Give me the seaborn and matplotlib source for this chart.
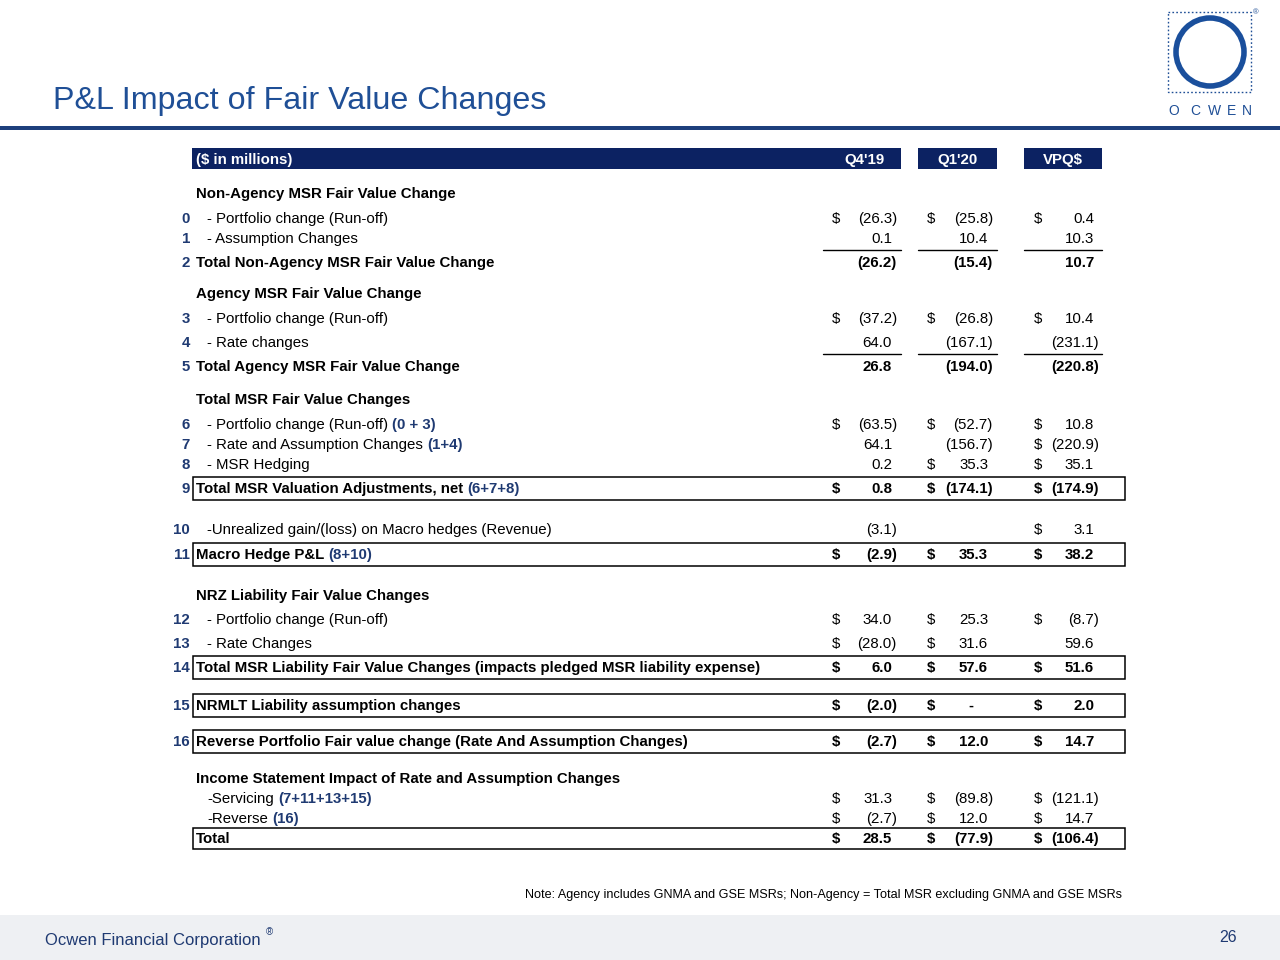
import matplotlib
matplotlib.use("Agg")
import matplotlib.pyplot as plt
from matplotlib.patches import Rectangle, Circle
import seaborn as sns

sns.set_theme(style="white")
plt.rcParams['font.family'] = ['Liberation Sans', 'DejaVu Sans']

# ---- table data ($ in millions) ----
col_heads = ["Q4'19", "Q1'20", "VPQ$"]
row_nums = ["", "0", "1", "2", "", "3", "4", "5", "", "6", "7", "8", "9", "10", "11",
            "", "12", "13", "14", "15", "16", "", "", "", ""]
labels = ["Non-Agency MSR Fair Value Change",
          "- Portfolio change (Run-off)",
          "- Assumption Changes",
          "Total Non-Agency MSR Fair Value Change",
          "Agency MSR Fair Value Change",
          "- Portfolio change (Run-off)",
          "- Rate changes",
          "Total Agency MSR Fair Value Change",
          "Total MSR Fair Value Changes",
          "- Portfolio change (Run-off)",
          "- Rate and Assumption Changes",
          "- MSR Hedging",
          "Total MSR Valuation Adjustments, net",
          "-Unrealized gain/(loss) on Macro hedges (Revenue)",
          "Macro Hedge P&L",
          "NRZ Liability Fair Value Changes",
          "- Portfolio change (Run-off)",
          "- Rate Changes",
          "Total MSR Liability Fair Value Changes (impacts pledged MSR liability expense)",
          "NRMLT Liability assumption changes",
          "Reverse Portfolio Fair value change (Rate And Assumption Changes)",
          "Income Statement Impact of Rate and Assumption Changes",
          "-Servicing",
          "-Reverse",
          "Total"]
formulas = ["", "", "", "", "", "", "", "", "", "(0 + 3)", "(1+4)", "", "(6+7+8)", "", "(8+10)",
            "", "", "", "", "", "", "", "(7+11+13+15)", "(16)", ""]
q4 = [None, -26.3, 0.1, -26.2, None, -37.2, 64.0, 26.8, None, -63.5, 64.1, 0.2, 0.8, -3.1, -2.9,
      None, 34.0, -28.0, 6.0, -2.0, -2.7, None, 31.3, -2.7, 28.5]
q1 = [None, -25.8, 10.4, -15.4, None, -26.8, -167.1, -194.0, None, -52.7, -156.7, 35.3, -174.1, None, 35.3,
      None, 25.3, 31.6, 57.6, 0.0, 12.0, None, -89.8, 12.0, -77.9]
vpq = [None, 0.4, 10.3, 10.7, None, 10.4, -231.1, -220.8, None, 10.8, -220.9, 35.1, -174.9, 3.1, 38.2,
       None, -8.7, 59.6, 51.6, 2.0, 14.7, None, -121.1, 14.7, -106.4]
# "$" shown in Q4 / Q1 / VPQ columns
dollars = ["000", "111", "000", "000", "000", "111", "000", "000", "000", "111", "001", "011", "111",
           "001", "111", "000", "111", "110", "111", "111", "111", "000", "111", "111", "111"]
# row kind: sec = section header, item = detail line, sub = bold subtotal, box = boxed bold total
kinds = ["sec", "item", "item", "sub", "sec", "item", "item", "sub", "sec", "item", "item", "item", "box",
         "item", "box", "sec", "item", "item", "box", "box", "box", "sec", "item", "item", "box"]
note = "Note: Agency includes GNMA and GSE MSRs; Non-Agency = Total MSR excluding GNMA and GSE MSRs"

# ---- layout (pixels, top-down) ----
row_y = [193, 218, 238, 262, 293, 318, 342, 366, 399, 424, 444, 464, 488, 529, 554,
         595, 619, 643, 667, 705, 741, 778, 798, 818, 838]
underline_rows = [2, 6]
dollar_x = [832, 927, 1034]
value_right = [897, 993, 1099]
col_spans = [(823, 901), (918, 997), (1024, 1102)]
head_spans = [(192, 901), (918, 997), (1024, 1102)]

navy = '#0c2262'
num_col = '#1f3a72'
blue = '#1f4f96'
fs = 10.8
dy = 1  # baseline nudge

fig = plt.figure(figsize=(12.8, 9.6), dpi=100)
ax = fig.add_axes([0, 0, 1, 1])
ax.set_xlim(0, 1280)
ax.set_ylim(960, 0)
ax.axis('off')

# title + rule
ax.text(53, 97, "P&L Impact of Fair Value Changes", fontsize=23.2, color=blue, va='center_baseline', ha='left')
ax.add_patch(Rectangle((0, 126), 1280, 4, color='#1d3f7c', lw=0))

# logo
ax.add_patch(Rectangle((1168, 12), 83, 80, fill=False, ec=blue, lw=1.0, ls=(0, (1.2, 1.6))))
ax.add_patch(Circle((1210, 52), 34, fill=False, ec='#1a4f9c', lw=4.0))
ax.text(1256, 13, "®", fontsize=5.5, color=blue, ha='center', va='center')
for lx, ch in zip([1174, 1195, 1214, 1232, 1247], "OCWEN"):
    ax.text(lx, 111, ch, fontsize=10, color=blue, ha='center', va='center')

# header bars
for (x0, x1) in head_spans:
    ax.add_patch(Rectangle((x0, 148), x1 - x0, 21, color=navy, lw=0))
ax.text(196, 159 + dy, "($ in millions)", fontsize=fs, color='white', fontweight='bold', va='center')
for (x0, x1), h in zip(col_spans, col_heads):
    cx = (x0 + x1) / 2 + (2 if h == "Q4'19" else 0)
    ax.text(cx, 159 + dy, h, fontsize=fs, color='white', fontweight='bold', va='center', ha='center')


def fmt(v):
    if v is None:
        return ""
    if v == 0:
        return "-"
    if v < 0:
        return "({:.1f})".format(abs(v))
    return "{:.1f}".format(v)


for i, y in enumerate(row_y):
    kind = kinds[i]
    bold = 'bold' if kind in ('sec', 'sub', 'box') else 'normal'
    lx = 207 if kind == 'item' else 196
    ty = y + dy
    if row_nums[i]:
        ax.text(190, ty, row_nums[i], fontsize=fs, color=num_col, fontweight='bold', ha='right', va='center')
    t = ax.text(lx, ty, labels[i], fontsize=fs, color='black', fontweight=bold, ha='left', va='center')
    if formulas[i]:
        ax.annotate(formulas[i], xy=(1, 0.5), xycoords=t, xytext=(3, 0), textcoords='offset points',
                    fontsize=fs, color=num_col, fontweight='bold', ha='left', va='center')
    if kind == 'box':
        h = 21 if i == len(row_y) - 1 else 23
        ax.add_patch(Rectangle((193, y - h / 2), 932, h, fill=False, ec='black', lw=1.1))
    for j, vals in enumerate([q4, q1, vpq]):
        s = fmt(vals[i])
        if not s:
            continue
        if s == "-":
            rx = value_right[j] - 20
        elif s.endswith(")"):
            rx = value_right[j]
        else:
            rx = value_right[j] - 5
        ax.text(rx, ty, s, fontsize=fs, color='black', fontweight=bold, ha='right', va='center')
        if dollars[i][j] == "1":
            ax.text(dollar_x[j], ty, "$", fontsize=fs, color='black', fontweight=bold, ha='left', va='center')
    if i in underline_rows:
        for (x0, x1) in col_spans:
            ax.plot([x0, x1], [y + 12, y + 12], color='black', lw=1.0)

# note
ax.text(1122, 895, note, fontsize=9.1, color='black', ha='right', va='center')

# footer
ax.add_patch(Rectangle((0, 915), 1280, 45, color='#eef0f3', lw=0))
ax.text(45, 940, "Ocwen Financial Corporation", fontsize=12, color=num_col, ha='left', va='center')
ax.text(269, 932, "®", fontsize=7, color=num_col, ha='center', va='center')
ax.text(1237, 938, "26", fontsize=11.5, color=num_col, ha='right', va='center')

fig.savefig("out.png", dpi=100)
